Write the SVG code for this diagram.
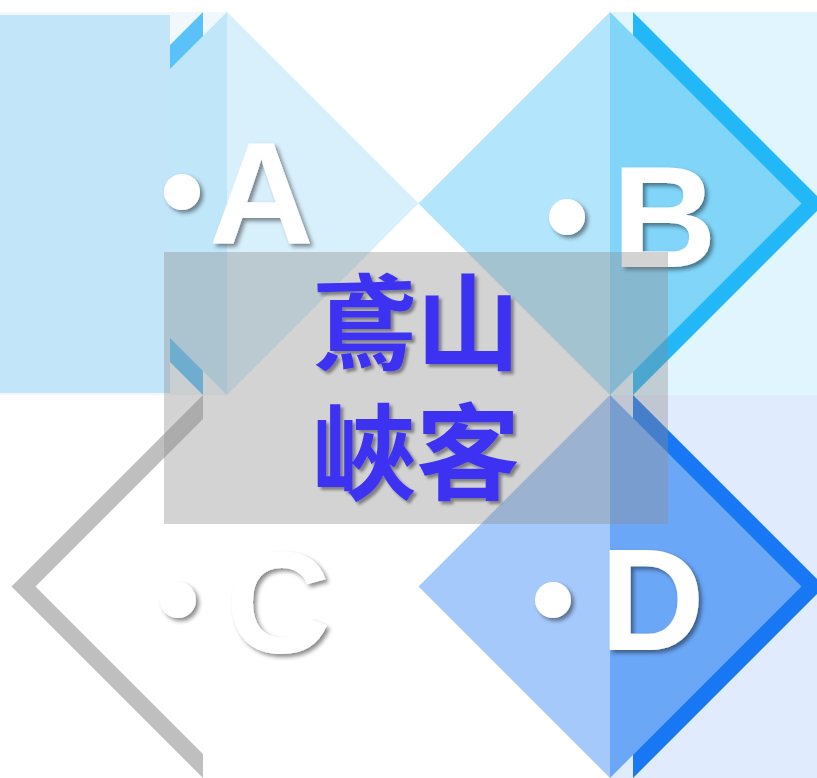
<svg xmlns="http://www.w3.org/2000/svg" width="817" height="778" viewBox="0 0 817 778">
<defs>
<filter id="sh" x="-30%" y="-30%" width="170%" height="170%">
<feDropShadow dx="3" dy="3" stdDeviation="2" flood-color="#000" flood-opacity="0.45"/>
</filter>
<filter id="sh2" x="-20%" y="-20%" width="150%" height="150%">
<feDropShadow dx="3" dy="3" stdDeviation="1.5" flood-color="#000" flood-opacity="0.4"/>
</filter>
<style>
.lbl{font-family:"Liberation Sans",Arial,sans-serif;font-weight:700;font-size:145px;fill:#fff;filter:url(#sh)}
.dot{fill:#fff;filter:url(#sh)}
.cjk{font-family:"Noto Sans CJK TC","Noto Sans CJK SC",sans-serif;font-weight:700;font-size:104px;fill:#3D33F2;filter:url(#sh2);text-anchor:middle}
</style>
</defs>
<rect width="817" height="778" fill="#fff"/>
<g id="node-a">
<rect x="0" y="12" width="227" height="383" fill="#F0F8FE"/>
<polygon points="203,12 11.5,203.5 203,395" fill="#5AC2F8"/>
<polygon points="227,12 35.5,203.5 227,395" fill="#C0E6FA"/>
<polygon points="227,12 418.5,203.5 227,395" fill="#D8EFFC"/>
<rect x="0" y="15" width="170" height="378" fill="#C3E5F9"/>
<circle cx="182" cy="192" r="18" class="dot"/>
<text x="209" y="243" class="lbl">A</text>
</g>
<g id="node-b">
<rect x="610" y="12" width="207" height="383" fill="#E1F5FE"/>
<polygon points="633,12 824.5,203.5 633,395" fill="#22B8F8"/>
<polygon points="610,12 418.5,203.5 610,395" fill="#B3E5FC"/>
<polygon points="610,12 801.5,203.5 610,395" fill="#81D5F9"/>
<circle cx="567" cy="217" r="18" class="dot"/>
<text x="612" y="267" class="lbl">B</text>
</g>
<g id="node-c">
<polygon points="203,395 11.5,586.5 203,778" fill="#BFBFBF"/>
<polygon points="227,395 35.5,586.5 227,778 418.5,586.5" fill="#fff"/>
<circle cx="178" cy="600" r="18" class="dot"/>
<text x="226" y="653" class="lbl">C</text>
</g>
<g id="node-d">
<rect x="610" y="395" width="207" height="383" fill="#E0EBFD"/>
<polygon points="633,395 824.5,586.5 633,778" fill="#1877F2"/>
<polygon points="610,395 418.5,586.5 610,778" fill="#A6C9FC"/>
<polygon points="610,395 801.5,586.5 610,778" fill="#6BA7F7"/>
<circle cx="553" cy="600" r="18" class="dot"/>
<text x="600" y="650" class="lbl">D</text>
</g>
<g id="connectors"></g>
<g id="title">
<rect x="164" y="252" width="504" height="272" fill="#8E8E8E" fill-opacity="0.39"/>
<text class="cjk"><tspan x="416" y="362">鳶山</tspan><tspan x="416" y="492">峽客</tspan></text>
</g>
</svg>
